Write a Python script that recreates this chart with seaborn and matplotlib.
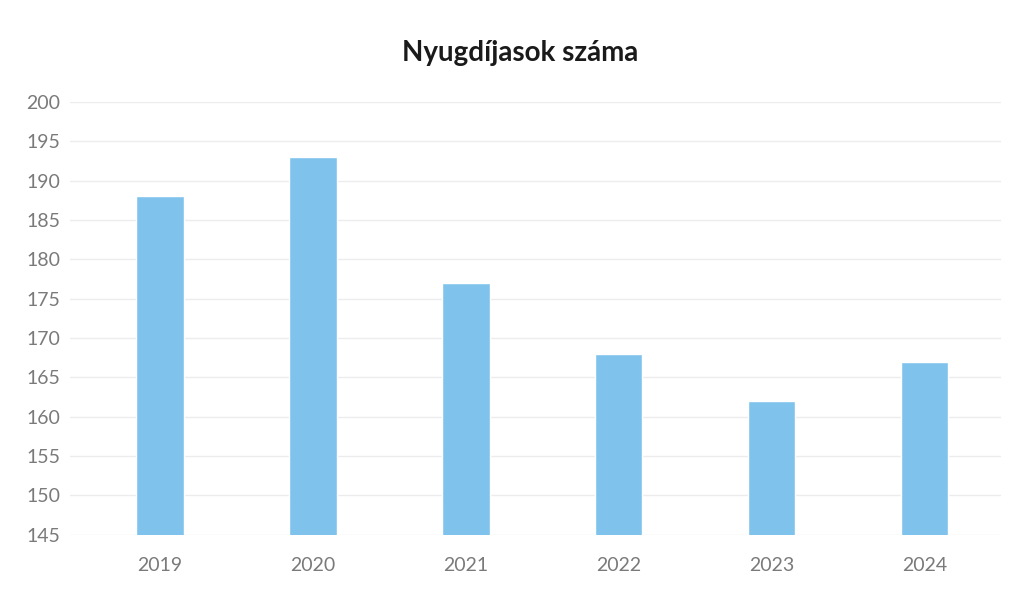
import pandas as pd
import seaborn as sns
import matplotlib.pyplot as plt

years = ['2019', '2020', '2021', '2022', '2023', '2024']
pensioners = [188, 193, 177, 168, 162, 167]
y_ticks = [145, 150, 155, 160, 165, 170, 175, 180, 185, 190, 195, 200]

df = pd.DataFrame({'year': years, 'count': pensioners})

sns.set_theme(style="white")
plt.rcParams['font.family'] = ['Lato', 'DejaVu Sans']

fig = plt.figure(figsize=(10.19, 5.89), dpi=100)
ax = fig.add_axes([0.0687, 0.092, 0.9137, 0.735])

sns.barplot(data=df, x="year", y="count", color="#7fc3ec", saturation=1,
            width=0.31, ax=ax, zorder=3)

ax.set_xlim(-0.588, 5.5)
ax.set_ylim(145, 200)
ax.set_yticks(y_ticks)
ax.yaxis.grid(True, color="#ececec", linewidth=1, zorder=0)
for s in ax.spines.values():
    s.set_visible(False)
ax.tick_params(axis='both', length=0, colors="#7a7a7a", labelsize=14)
ax.tick_params(axis='y', pad=7)
ax.tick_params(axis='x', pad=16)
ax.set_xlabel('')
ax.set_ylabel('')

fig.text(0.51, 0.91, "Nyugdíjasok száma", ha='center', va='center',
         fontsize=20, fontweight='bold', color="#1a1a1a")

plt.savefig("out.png", dpi=100)
